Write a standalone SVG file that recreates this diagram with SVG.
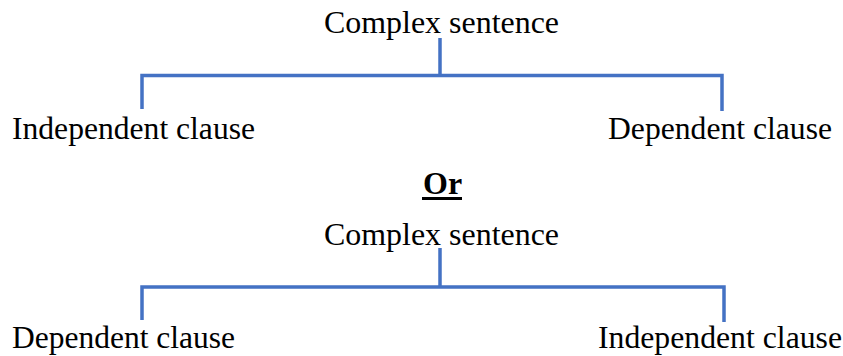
<svg xmlns="http://www.w3.org/2000/svg" width="843" height="356" viewBox="0 0 843 356">
<style>
.t{font-family:"Liberation Serif","Times New Roman",serif;font-size:32px;fill:#000}
.b{font-weight:bold}
.c{fill:none;stroke:#4472C4;stroke-width:3.5;stroke-linecap:butt;stroke-linejoin:miter}
</style>
<rect width="843" height="356" fill="#fff"/>
<g id="connectors">
<path class="c" d="M440,38 V75.5 M142,109 V75.5 H722 V111"/>
<path class="c" d="M440,248 V287 M142,320 V287 H724 V322"/>
</g>
<g id="top-root"><text class="t" x="324" y="33" textLength="235" lengthAdjust="spacingAndGlyphs">Complex sentence</text></g>
<g id="top-left"><text class="t" x="12" y="139" textLength="243" lengthAdjust="spacingAndGlyphs">Independent clause</text></g>
<g id="top-right"><text class="t" x="608" y="139" textLength="224" lengthAdjust="spacingAndGlyphs">Dependent clause</text></g>
<g id="or"><text class="t b" x="423" y="194">Or</text><rect x="422" y="197" width="40" height="3" fill="#000"/></g>
<g id="bottom-root"><text class="t" x="324" y="245" textLength="235" lengthAdjust="spacingAndGlyphs">Complex sentence</text></g>
<g id="bottom-left"><text class="t" x="12" y="348" textLength="223" lengthAdjust="spacingAndGlyphs">Dependent clause</text></g>
<g id="bottom-right"><text class="t" x="598" y="348" textLength="244" lengthAdjust="spacingAndGlyphs">Independent clause</text></g>
</svg>
